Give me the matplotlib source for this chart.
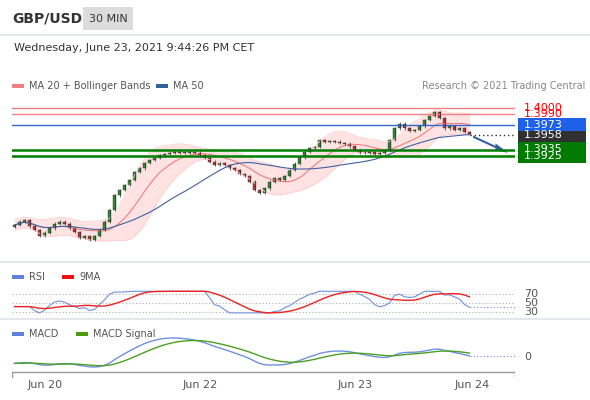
import numpy as np
import pandas as pd
import matplotlib
matplotlib.use("Agg")
from matplotlib import pyplot as plt
from matplotlib.patches import Rectangle, FancyArrow

closes = [1.3818, 1.3823, 1.3826, 1.3816, 1.3810, 1.3801, 1.3806, 1.3813, 1.3820, 1.3823,
          1.3820, 1.3813, 1.3807, 1.3798, 1.3801, 1.3795, 1.3801, 1.3810, 1.3823, 1.3841,
          1.3864, 1.3872, 1.3880, 1.3888, 1.3900, 1.3906, 1.3914, 1.3919, 1.3922, 1.3926,
          1.3928, 1.3930, 1.3931, 1.3930, 1.3930, 1.3931, 1.3930, 1.3926, 1.3922, 1.3916,
          1.3911, 1.3914, 1.3911, 1.3906, 1.3903, 1.3897, 1.3894, 1.3885, 1.3872, 1.3868,
          1.3875, 1.3885, 1.3891, 1.3888, 1.3894, 1.3903, 1.3913, 1.3923, 1.3931, 1.3937,
          1.3939, 1.3950, 1.3947, 1.3948, 1.3947, 1.3945, 1.3944, 1.3940, 1.3934, 1.3930,
          1.3930, 1.3931, 1.3928, 1.3930, 1.3934, 1.3950, 1.3968, 1.3975, 1.3968, 1.3964,
          1.3965, 1.3971, 1.3981, 1.3987, 1.3993, 1.3984, 1.3968, 1.3971, 1.3965, 1.3968,
          1.3962, 1.3959]
first_open = 1.3815
tick_pos = [6.2, 37.2, 68.2, 91.6]
tick_labels = ["Jun 20", "Jun 22", "Jun 23", "Jun 24"]
red_levels = [1.4000, 1.3990]
resist = 1.3973
last_price = 1.3958
supports = [1.3935, 1.3925]

W, H = 590, 400
fig = plt.figure(figsize=(W / 100, H / 100), dpi=100)
fig.patch.set_facecolor("white")


def ax_px(x0, y0, x1, y1):
    a = fig.add_axes([x0 / W, 1 - y1 / H, (x1 - x0) / W, (y1 - y0) / H])
    a.set_axis_off()
    return a


def fy(y):
    return 1 - y / H


c = pd.Series(closes)
n = len(closes)
idx = np.arange(n)
opens = [first_open] + closes[:-1]
ma20 = c.rolling(10, min_periods=1).mean()
sd = c.rolling(10, min_periods=3).std().bfill().rolling(4, min_periods=1).mean()
up = ma20 + 1.3 * sd + 0.0003
lo = ma20 - 1.3 * sd - 0.0003
ma50 = c.rolling(25, min_periods=1).mean()

XL = (-0.5, 100.1)
px_per_price = 1 / 0.000155
top_p = resist + 30 / px_per_price
bot_p = resist - 130 / px_per_price

ax = ax_px(12, 95, 515, 255)
ax.set_xlim(*XL)
ax.set_ylim(bot_p, top_p)
ax.fill_between(idx, lo, up, color="#ffdcdc", alpha=0.8, lw=0)
ax.plot(idx, up, color="#ffcccc", lw=0.6)
ax.plot(idx, lo, color="#ffcccc", lw=0.6)
ax.plot(idx, ma20, color="#f07070", lw=0.7)
ax.plot(idx, ma50, color="#4060a0", lw=0.8)
for lv in red_levels:
    ax.axhline(lv, color="#f08080", lw=1)
ax.axhline(resist, color="#3366cc", lw=1)
for lv in supports:
    ax.axhline(lv, color="#008000", lw=1.8)
for i in range(n):
    o, cl = opens[i], closes[i]
    col = "#2e8b2e" if cl >= o else "#c03030"
    ax.vlines(i, min(o, cl) - 0.0002, max(o, cl) + 0.0002, color="#333333", lw=0.5)
    ax.add_patch(Rectangle((i - 0.25, min(o, cl)), 0.5, max(abs(cl - o), 0.00005),
                           facecolor=col, edgecolor="#333333", lw=0.3))
ax.plot([n - 1, XL[1]], [last_price, last_price], color="#333333", lw=1, ls=(0, (1, 2)))
ax.add_patch(FancyArrow(n - 0.3, 1.3955, 7.0, -0.0025, width=0.00035, head_width=0.0011,
                        head_length=2.5, length_includes_head=True, color="#2f5fa0", lw=0))

# price boxes
def pbox(y0, y1, col, txt, ty, tcol="white"):
    fig.patches.append(Rectangle((518 / W, fy(y1)), 68 / W, (y1 - y0) / H, facecolor=col,
                                 edgecolor="none", transform=fig.transFigure))
    fig.text(524 / W, fy(ty), txt, color=tcol, fontsize=8, va="center")

fig.text(524 / W, fy(108), "1.4000", color="red", fontsize=8, va="center")
fig.text(524 / W, fy(114), "1.3990", color="red", fontsize=8, va="center")
pbox(129, 142, "#303030", "1.3958", 135)
pbox(118, 131, "#1e60e8", "1.3973", 125)
pbox(142, 163, "#007a00", "1.3935", 149)
fig.text(524 / W, fy(156), "1.3925", color="white", fontsize=8, va="center")

# RSI
delta = c.diff().fillna(0)
gain = delta.clip(lower=0).rolling(14, min_periods=1).mean()
loss = (-delta.clip(upper=0)).rolling(14, min_periods=1).mean()
rsi = (100 * gain / (gain + loss).replace(0, np.nan)).fillna(50)
rsi.iloc[:4] = 42
rsi = rsi.clip(28, 76)
rsi9 = rsi.rolling(9, min_periods=1).mean()
ar = ax_px(12, 287, 515, 316)
ar.set_xlim(*XL)
ar.set_ylim(30 - 4 * 40 / 18, 70 + 7 * 40 / 18)
for lv in (70, 50, 30):
    ar.axhline(lv, color="#aaaaaa", lw=0.8, ls=(0, (1, 2)))
ar.plot(idx, rsi, color="#7090e0", lw=0.8)
ar.plot(idx, rsi9, color="#ee2020", lw=1)
ar.plot([n - 1, XL[1]], [rsi.iloc[-1]] * 2, color="#7090e0", lw=0.8, ls=(0, (1, 2)))
for lv, yy in ((70, 294), (50, 303), (30, 312)):
    fig.text(524 / W, fy(yy), str(lv), color="#555555", fontsize=8, va="center")

# MACD
macd = c.ewm(span=12, adjust=False).mean() - c.ewm(span=26, adjust=False).mean()
sig = macd.ewm(span=9, adjust=False).mean()
am = ax_px(12, 335, 515, 370)
am.set_xlim(*XL)
lo_m, hi_m = min(macd.min(), sig.min()), max(macd.max(), sig.max())
pad = (hi_m - lo_m) * 0.1
am.set_ylim(lo_m - pad, hi_m + pad)
am.plot(idx, macd, color="#7090e0", lw=1)
am.plot(idx, sig, color="#4aa020", lw=1)
am.plot([n - 1, XL[1]], [macd.iloc[-1]] * 2, color="#7090e0", lw=0.8, ls=(0, (1, 2)))
fig.text(524 / W, fy(357), "0", color="#555555", fontsize=8, va="center")

# bottom axis
ab = ax_px(12, 365, 515, 395)
ab.set_xlim(*XL)
ab.set_ylim(0, 1)
ab.plot([XL[0], XL[1]], [0.77, 0.77], color="#999999", lw=1)
ab.plot([XL[0], XL[0]], [0.77, 0.6], color="#999999", lw=1)
ab.plot([XL[1], XL[1]], [0.77, 0.6], color="#999999", lw=1)
for p, t in zip(tick_pos, tick_labels):
    ab.text(p, 0.35, t, ha="center", va="center", fontsize=8, color="#555555")

# header and separators
fig.text(12 / W, fy(18), "GBP/USD", fontsize=10, fontweight="bold", color="#333333", va="center")
fig.patches.append(Rectangle((83 / W, fy(30)), 50 / W, 23 / H, facecolor="#dcdcdc",
                             edgecolor="none", transform=fig.transFigure))
fig.text(108 / W, fy(18.5), "30 MIN", fontsize=8, color="#333333", ha="center", va="center")
for yy in (35, 262, 319):
    fig.lines.append(plt.Line2D([0, 1], [fy(yy)] * 2, color="#e4e8ee", lw=1.5,
                                transform=fig.transFigure))
fig.text(14 / W, fy(48), "Wednesday, June 23, 2021 9:44:26 PM CET", fontsize=8, color="#333333", va="center")


def leg(x, y, col, txt):
    fig.patches.append(Rectangle((x / W, fy(y + 2)), 12 / W, 4 / H, facecolor=col,
                                 edgecolor="none", transform=fig.transFigure))
    fig.text((x + 17) / W, fy(y), txt, fontsize=7, color="#555555", va="center")

leg(12, 86, "#f08080", "MA 20 + Bollinger Bands")
leg(156, 86, "#3060a0", "MA 50")
fig.text(585 / W, fy(86), "Research © 2021 Trading Central", fontsize=7, color="#888888",
         ha="right", va="center")
leg(12, 277, "#6080e0", "RSI")
leg(62, 277, "#ee1010", "9MA")
leg(12, 334, "#6080e0", "MACD")
leg(76, 334, "#4a9a10", "MACD Signal")

fig.savefig("out.png", dpi=100)
